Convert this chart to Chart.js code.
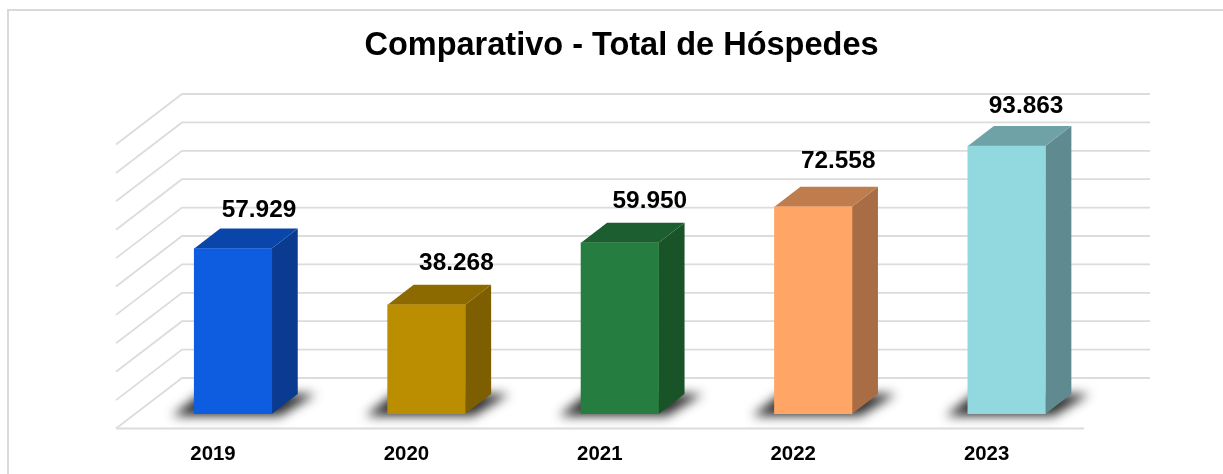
<!DOCTYPE html>
<html><head><meta charset="utf-8">
<script src="https://cdn.jsdelivr.net/npm/chart.js@4"></script>
<style>
html,body{margin:0;padding:0;background:#fff;overflow:hidden}
#wrap{position:relative;width:1223px;height:474px}
#frame{position:absolute;left:7px;top:9px;right:0;bottom:0;border-left:2px solid #d9d9d9;border-top:2px solid #d9d9d9}
canvas{position:absolute;left:0;top:0;filter:blur(0.35px)}
</style></head><body>
<div id="wrap"><div id="frame"></div><canvas id="c" width="1223" height="474"></canvas></div>
<script>
const years = ['2019','2020','2021','2022','2023'];
const guests = [57929,38268,59950,72558,93863];
const frontColors = ['#0E5CDF','#BB8D00','#257D3F','#FFA566','#92D8DF'];
const topColors = ['#0A45AA','#8C6A00','#1C5E2F','#BF7C4D','#6EA2A7'];
const sideColors = ['#0B3B90','#7D5E00','#195429','#A86D44','#5F8A8F'];
const labelShift = [[26,-38],[30,-41.5],[30,-41.5],[25,-45.5],[19.5,-40]];
const DX=26, DY=20, GRID='#dcdcdc';
const fmt = v => v.toLocaleString('de-DE');

const scene = {
  id:'scene',
  beforeDatasetsDraw(chart){
    const {ctx,scales:{x,y}} = chart;
    const base = y.getPixelForValue(0);
    const back = v => base-36-(base-y.getPixelForValue(v))*0.9947;
    const x0=x.left-20.3, x1=x.right-19.3, bx0=x.left+45.7, bx1=x.right+46.7;
    ctx.save();
    ctx.strokeStyle=GRID; ctx.lineWidth=1.8;
    y.ticks.forEach(t=>{
      const yy=back(t.value);
      ctx.beginPath(); ctx.moveTo(x0,yy+50.5); ctx.lineTo(bx0,yy); ctx.lineTo(bx1,yy); ctx.stroke();
    });
    const fy=back(0)+50.5;
    ctx.beginPath(); ctx.moveTo(x0,fy); ctx.lineTo(x1,fy); ctx.stroke();
    const bars = chart.getDatasetMeta(0).data;
    const OFF=3000;
    bars.forEach(b=>{
      const L=b.x-b.width/2,R=b.x+b.width/2,B=b.base;
      ctx.save();
      ctx.shadowColor='#2e2e2e';
      ctx.shadowBlur=11;
      ctx.shadowOffsetX=OFF;
      ctx.fillStyle='#000';
      ctx.beginPath();
      ctx.moveTo(L-22-OFF,B+2);ctx.lineTo(L+6-OFF,B-20);ctx.lineTo(R+44-OFF,B-20);ctx.lineTo(R+8-OFF,B+2);ctx.closePath();ctx.fill();
      ctx.restore();
    });
    bars.forEach((b,i)=>{
      const L=b.x-b.width/2,R=b.x+b.width/2,B=b.base,T=b.y;
      ctx.fillStyle=sideColors[i];
      ctx.beginPath();ctx.moveTo(R,T);ctx.lineTo(R+DX,T-DY);ctx.lineTo(R+DX,B-DY);ctx.lineTo(R,B);ctx.closePath();ctx.fill();
      ctx.fillStyle=topColors[i];
      ctx.beginPath();ctx.moveTo(L,T);ctx.lineTo(L+DX,T-DY);ctx.lineTo(R+DX,T-DY);ctx.lineTo(R,T);ctx.closePath();ctx.fill();
    });
    ctx.restore();
  },
  afterDatasetsDraw(chart){
    const {ctx}=chart;
    ctx.save();
    ctx.font='bold 24.4px "Liberation Sans"';
    ctx.fillStyle='#000';ctx.textAlign='center';ctx.textBaseline='middle';
    chart.getDatasetMeta(0).data.forEach((b,i)=>{
      ctx.fillText(fmt(guests[i]),b.x+labelShift[i][0],b.y+labelShift[i][1]);
    });
    ctx.restore();
  }
};

new Chart(document.getElementById('c'),{
  type:'bar',
  data:{labels:years,datasets:[{data:guests,backgroundColor:frontColors,borderWidth:0,barThickness:77.5}]},
  options:{
    responsive:false,animation:false,
    layout:{padding:{left:136.3,right:116.3,top:0,bottom:0}},
    plugins:{
      legend:{display:false},tooltip:{enabled:false},
      title:{display:true,text:'Comparativo - Total de Hóspedes',color:'#000',
        font:{family:'"Liberation Sans"',size:32.5,weight:'bold'},padding:{top:27,bottom:62.5}}
    },
    scales:{
      x:{grid:{display:false},border:{display:false},
        ticks:{color:'#000',labelOffset:-20,padding:20,maxRotation:0,font:{family:'"Liberation Sans"',size:20.4,weight:'bold'}},
        afterFit(s){s.height=60;}},
      y:{position:'right',min:0,max:100000,grid:{display:false},border:{display:false},
        ticks:{stepSize:10000,display:false},afterFit(s){s.width=3.4;}}
    }
  },
  plugins:[scene]
});
</script>
</body></html>
